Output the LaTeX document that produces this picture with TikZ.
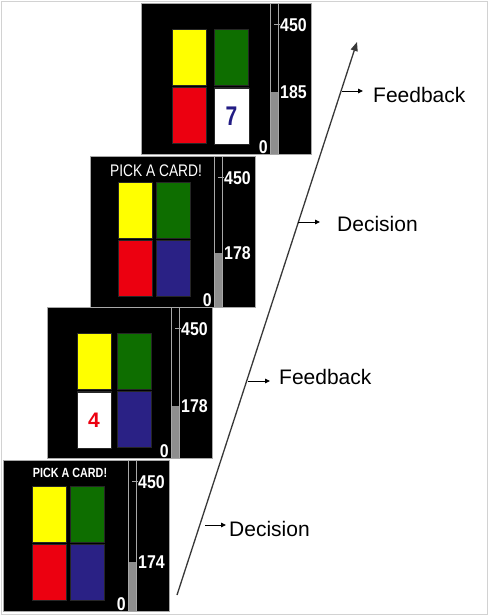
\documentclass[tikz,border=0pt]{standalone}
\usepackage{fontspec}
\setmainfont{Liberation Sans}
\usetikzlibrary{arrows.meta}
\definecolor{cyellow}{HTML}{FFFF00}
\definecolor{cgreen}{HTML}{0E6E00}
\definecolor{cred}{HTML}{EC0010}
\definecolor{cblue}{HTML}{2A2185}
\definecolor{cnavy}{HTML}{221C84}
\definecolor{gfill}{HTML}{8E8E8E}
\definecolor{gline}{HTML}{A8A8A8}
\tikzset{
  frame/.style={draw=gline, line width=0.8pt},
  card/.style={draw=black!85, line width=0.4pt},
  num/.style={text=white, inner sep=0pt, font=\bfseries\fontsize{18.5}{20}\selectfont},
  lab/.style={inner sep=0pt, anchor=base west, font=\fontsize{21}{25}\selectfont},
  small/.style={-{Triangle[length=5pt,width=4.5pt]}, line width=0.9pt, black},
  mainarrow/.style={-{Triangle[length=9pt,width=7pt]}, line width=1.3pt, draw=black!78},
}
% #1 x0, #2 y0, #3 main width, #4 gauge fill top, #5 value, #6 card x, #7 column step, #8 name
\newcommand\drawscreen[8]{%
\begin{scope}[shift={(#1,#2)}]
  \fill[black] (0,0) rectangle ({#3+41},151);
  \draw[frame] (0,0) rectangle (#3,151);
  \fill[gfill] (#3,#4) rectangle ({#3+8},151);
  \draw[frame] (#3,0) rectangle ({#3+8},151);
  \draw[frame] ({#3+8},0) rectangle ({#3+41},151);
  \draw[frame] ({#3+4},21) -- ({#3+10},21);
  \node[num,anchor=west] (#8max) at ({#3+10},22) {\scalebox{0.86}[1]{450}};
  \node[num,anchor=west] (#8val) at ({#3+10},#4) {\scalebox{0.86}[1]{#5}};
  \node[num,anchor=base east] (#8zero) at ({#3-2},150) {\scalebox{0.86}[1]{0}};
  \fill[cyellow,card] (#6,26) rectangle ++(34,56);
  \fill[cgreen,card] ({#6+#7},26) rectangle ++(34,56);
  \fill[cred,card] (#6,84) rectangle ++(34,56);
  \fill[cblue,card] ({#6+#7},84) rectangle ++(34,56);
\end{scope}}
\begin{document}
\begin{tikzpicture}[x=1pt,y=-1pt]
\useasboundingbox (0,0) rectangle (490,616);
\fill[white] (0,0) rectangle (490,616);
\draw[gray!35, line width=1pt] (1,1) rectangle (487.5,614.5);

% screens
\drawscreen{141}{3.5}{129}{88.5}{185}{31}{42}{sa}
\fill[white,card] (214,88) rectangle ++(35,56);
\node[text=cnavy, inner sep=0pt, font=\bfseries\fontsize{27}{30}\selectfont] (seven) at (231.5,116) {\scalebox{0.78}[1]{7}};

\drawscreen{90}{156}{124}{97}{178}{28}{38}{sb}
\node[text=white, inner sep=0pt, font=\fontsize{16.8}{18}\selectfont] (hdrb) at (156,171) {\scalebox{0.82}[1]{PICK A CARD!}};

\drawscreen{47}{307}{124}{99}{178}{30}{40}{sc}
\fill[white,card] (77,392) rectangle ++(34,56);
\node[text=cred, inner sep=0pt, font=\bfseries\fontsize{21}{24}\selectfont] (four) at (94,420.5) {4};

\drawscreen{3}{460}{125}{102}{174}{29}{38}{sd}
\node[text=white, inner sep=0pt, font=\bfseries\fontsize{13.3}{15}\selectfont] (hdrd) at (70,472.5) {\scalebox{0.81}[1]{PICK A CARD!}};

% time axis
\coordinate (tstart) at (177,595);
\coordinate (tend) at (357,42);
\draw[mainarrow] (tstart) -- (tend);

% labels
\node[lab] (fb1) at (373,102) {Feedback};
\node[lab] (dc1) at (337,231) {Decision};
\node[lab] (fb2) at (279,384) {Feedback};
\node[lab] (dc2) at (229,536) {Decision};

\coordinate (a1s) at (342,91);   \coordinate (a1e) at (363,91);
\coordinate (a2s) at (298,222);  \coordinate (a2e) at (320,222);
\coordinate (a3s) at (248,381);  \coordinate (a3e) at (270,381);
\coordinate (a4s) at (205,525);  \coordinate (a4e) at (226,525);
\draw[small] (a1s) -- (a1e);
\draw[small] (a2s) -- (a2e);
\draw[small] (a3s) -- (a3e);
\draw[small] (a4s) -- (a4e);
\end{tikzpicture}
\end{document}
